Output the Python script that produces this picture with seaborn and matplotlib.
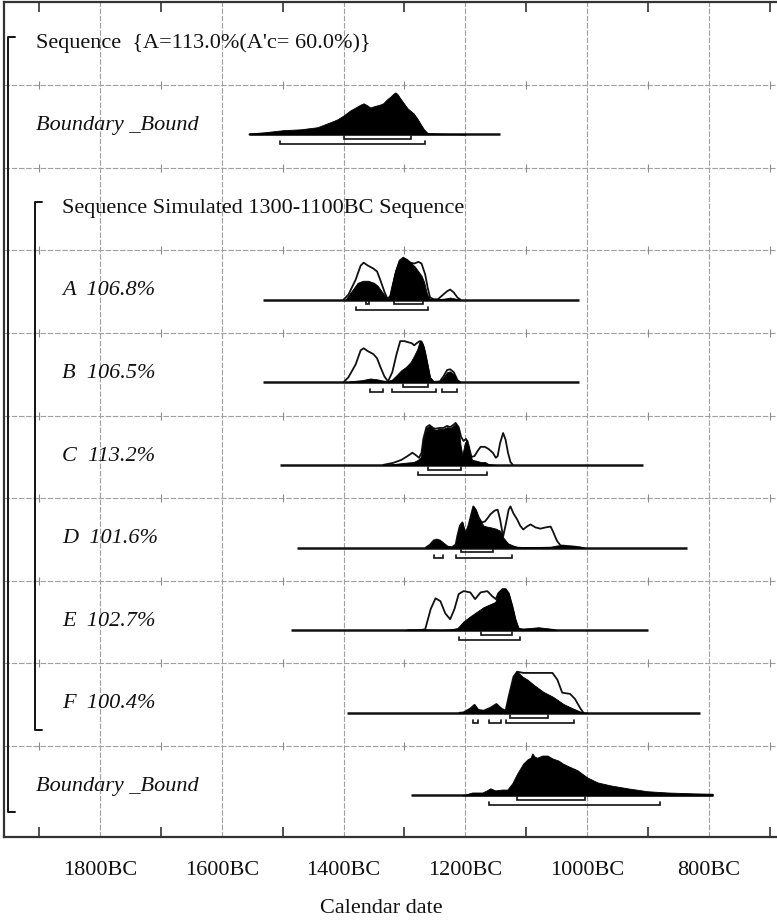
import matplotlib
matplotlib.use("Agg")
import matplotlib.pyplot as plt
import matplotlib.transforms as mtransforms
import pandas as pd
import seaborn as sns

# ---- rows, top to bottom -------------------------------------------------
ROW_LABELS = [
    "Sequence  {A=113.0%(A'c= 60.0%)}",
    "Boundary _Bound",
    "Sequence Simulated 1300-1100BC Sequence",
    "A  106.8%",
    "B  106.5%",
    "C  113.2%",
    "D  101.6%",
    "E  102.7%",
    "F  100.4%",
    "Boundary _Bound",
]
ROW_ITALIC = [False, True, False, True, True, True, True, True, True, True]
ROW_INDENT = [0, 0, 1, 1, 1, 1, 1, 1, 1, 0]

# ---- calendar axis (years BC) --------------------------------------------
GRID_YEARS = [1800, 1600, 1400, 1200, 1000, 800]
TICK_LABELS = ["1800BC", "1600BC", "1400BC", "1200BC", "1000BC", "800BC"]
MINOR_YEARS = [1900, 1700, 1500, 1300, 1100, 900, 700]
X_LABEL = "Calendar date"

# ---- start boundary (posterior only) ------------------------------------
START_POST_YEARS = [1556, 1530, 1499, 1471, 1443, 1427, 1418, 1410, 1400, 1389,
                    1378, 1372, 1367, 1361, 1356, 1350, 1345, 1340, 1335, 1329,
                    1323, 1318, 1315, 1311, 1307, 1301, 1295, 1285, 1279, 1274,
                    1268, 1262, 1245, 1225, 1200]
START_POST = [0.02, 0.05, 0.10, 0.12, 0.17, 0.26, 0.31, 0.36, 0.45, 0.57,
              0.66, 0.71, 0.74, 0.69, 0.64, 0.67, 0.69, 0.71, 0.74, 0.83,
              0.90, 0.97, 1.00, 0.95, 0.86, 0.74, 0.62, 0.50, 0.38, 0.26,
              0.12, 0.03, 0.02, 0.01, 0.00]

# ---- A ----------------------------------------------------------------------
A_PRIOR_YEARS = [1400, 1392, 1380, 1372, 1367, 1360, 1351, 1345, 1340, 1333,
                 1328, 1322, 1315, 1308, 1302, 1296, 1290, 1284, 1277, 1272,
                 1266, 1262, 1258, 1252, 1245, 1238, 1230, 1225, 1219, 1213, 1208]
A_PRIOR = [0, 0.12, 0.48, 0.81, 0.88, 0.81, 0.74, 0.67, 0.48, 0.19,
           0.02, 0.10, 0.60, 0.93, 1.00, 0.95, 0.88, 0.86, 0.90, 0.86,
           0.60, 0.29, 0.05, 0.01, 0.01, 0.10, 0.20, 0.24, 0.17, 0.05, 0]
A_POST_YEARS = [1396, 1385, 1377, 1368, 1360, 1350, 1344, 1337, 1330, 1326,
                1322, 1315, 1310, 1302, 1296, 1290, 1283, 1279, 1272, 1268,
                1263, 1259, 1245, 1232, 1225, 1218, 1210]
A_POST = [0.02, 0.24, 0.40, 0.45, 0.45, 0.40, 0.33, 0.19, 0.05, 0.02,
          0.29, 0.71, 0.90, 1.00, 0.95, 0.88, 0.79, 0.71, 0.57, 0.43,
          0.14, 0.02, 0.01, 0.03, 0.05, 0.03, 0]

# ---- B ----------------------------------------------------------------------
B_PRIOR_YEARS = [1400, 1392, 1380, 1372, 1367, 1360, 1351, 1345, 1340, 1333,
                 1327, 1320, 1313, 1307, 1300, 1293, 1288, 1284, 1280, 1275,
                 1272, 1268, 1263, 1258, 1252, 1242, 1236, 1230, 1225, 1219,
                 1213, 1208]
B_PRIOR = [0, 0.12, 0.43, 0.76, 0.81, 0.74, 0.67, 0.57, 0.38, 0.14,
           0.02, 0.24, 0.67, 0.98, 0.98, 0.95, 0.93, 0.88, 0.93, 0.98,
           0.97, 0.83, 0.43, 0.10, 0.01, 0.02, 0.14, 0.29, 0.31, 0.24,
           0.05, 0]
B_POST_YEARS = [1398, 1385, 1370, 1356, 1345, 1335, 1327, 1320, 1313, 1305,
                1298, 1290, 1284, 1279, 1275, 1271, 1266, 1262, 1258, 1252,
                1242, 1236, 1230, 1225, 1219, 1213, 1208]
B_POST = [0, 0.03, 0.05, 0.09, 0.07, 0.04, 0.03, 0.07, 0.17, 0.29,
          0.36, 0.48, 0.64, 0.79, 0.98, 0.95, 0.71, 0.43, 0.12, 0.01,
          0.02, 0.12, 0.24, 0.26, 0.19, 0.05, 0]

# ---- C ----------------------------------------------------------------------
C_PRIOR_YEARS = [1335, 1318, 1305, 1295, 1287, 1282, 1276, 1272, 1269, 1264,
                 1259, 1253, 1249, 1243, 1236, 1230, 1225, 1220, 1216, 1211,
                 1207, 1203, 1199, 1195, 1190, 1185, 1180, 1175, 1168, 1162,
                 1155, 1150, 1147, 1143, 1138, 1134, 1130, 1126, 1122]
C_PRIOR = [0, 0.05, 0.12, 0.21, 0.29, 0.24, 0.17, 0.29, 0.62, 0.90,
           0.95, 0.88, 0.86, 0.88, 0.88, 0.93, 0.90, 0.95, 1.00, 0.90,
           0.67, 0.57, 0.62, 0.48, 0.19, 0.21, 0.33, 0.43, 0.43, 0.38,
           0.29, 0.17, 0.21, 0.52, 0.76, 0.60, 0.29, 0.07, 0]
C_POST_YEARS = [1335, 1318, 1300, 1285, 1278, 1273, 1269, 1264, 1259, 1253,
                1249, 1243, 1236, 1230, 1225, 1220, 1216, 1211, 1208, 1205,
                1201, 1197, 1193, 1189, 1182, 1175, 1168, 1162, 1150]
C_POST = [0, 0.02, 0.05, 0.07, 0.12, 0.19, 0.60, 0.88, 0.93, 0.86,
          0.83, 0.86, 0.86, 0.90, 0.88, 0.93, 0.98, 0.86, 0.48, 0.24,
          0.52, 0.60, 0.29, 0.12, 0.10, 0.07, 0.07, 0.02, 0]

# ---- D ----------------------------------------------------------------------
D_PRIOR_YEARS = [1265, 1258, 1252, 1247, 1242, 1236, 1229, 1222, 1216, 1213,
                 1209, 1205, 1200, 1195, 1190, 1187, 1183, 1178, 1173, 1168,
                 1164, 1159, 1152, 1147, 1143, 1138, 1133, 1129, 1126, 1121,
                 1115, 1110, 1105, 1099, 1093, 1085, 1077, 1068, 1060, 1056,
                 1050, 1044, 1035, 1020, 1010]
D_PRIOR = [0, 0.07, 0.17, 0.19, 0.17, 0.10, 0.02, 0.01, 0.07, 0.29,
           0.52, 0.60, 0.33, 0.52, 0.81, 0.98, 0.90, 0.71, 0.60, 0.62,
           0.69, 0.79, 0.88, 0.90, 0.67, 0.26, 0.60, 0.90, 0.98, 0.81,
           0.67, 0.52, 0.43, 0.50, 0.55, 0.48, 0.45, 0.48, 0.50, 0.38,
           0.17, 0.05, 0.04, 0.02, 0]
D_POST_YEARS = [1265, 1258, 1252, 1247, 1242, 1236, 1229, 1222, 1216, 1213,
                1209, 1205, 1200, 1195, 1190, 1187, 1183, 1178, 1175, 1170,
                1165, 1158, 1150, 1143, 1139, 1134, 1130, 1122, 1115, 1100,
                1060, 1050, 1040, 1025, 1012, 1005]
D_POST = [0, 0.07, 0.17, 0.19, 0.17, 0.10, 0.02, 0.01, 0.07, 0.29,
          0.52, 0.60, 0.33, 0.52, 0.81, 0.98, 0.90, 0.71, 0.62, 0.52,
          0.50, 0.48, 0.45, 0.40, 0.26, 0.17, 0.10, 0.05, 0.02, 0.01,
          0.02, 0.05, 0.05, 0.04, 0.02, 0]

# ---- E ----------------------------------------------------------------------
E_PRIOR_YEARS = [1275, 1266, 1257, 1249, 1241, 1233, 1225, 1218, 1211, 1203,
                 1192, 1184, 1175, 1164, 1156, 1150, 1146, 1139, 1134, 1129,
                 1123, 1118, 1113, 1108]
E_PRIOR = [0, 0.02, 0.50, 0.76, 0.69, 0.40, 0.26, 0.50, 0.86, 0.93,
           0.90, 0.74, 0.90, 0.93, 0.81, 0.74, 0.88, 0.98, 0.98, 0.88,
           0.57, 0.26, 0.05, 0]
E_POST_YEARS = [1300, 1295, 1269, 1240, 1225, 1213, 1203, 1192, 1180, 1170,
                1159, 1151, 1146, 1139, 1134, 1129, 1123, 1118, 1113, 1105,
                1095, 1080, 1068, 1056, 1050]
E_POST = [0, 0.02, 0.02, 0.01, 0.02, 0.05, 0.21, 0.33, 0.45, 0.55,
          0.62, 0.67, 0.88, 0.98, 0.98, 0.88, 0.57, 0.26, 0.05, 0.04,
          0.05, 0.07, 0.05, 0.03, 0]

# ---- F ----------------------------------------------------------------------
F_PRIOR_YEARS = [1210, 1203, 1192, 1185, 1179, 1170, 1159, 1149, 1141, 1134,
                 1129, 1121, 1115, 1105, 1082, 1057, 1049, 1041, 1028, 1020,
                 1011, 1006]
F_PRIOR = [0, 0.01, 0.10, 0.19, 0.07, 0.05, 0.12, 0.21, 0.10, 0.05,
           0.38, 0.86, 0.98, 0.95, 0.95, 0.95, 0.79, 0.48, 0.45, 0.33,
           0.10, 0]
F_POST_YEARS = [1210, 1203, 1192, 1185, 1179, 1170, 1159, 1149, 1141, 1134,
                1129, 1121, 1115, 1106, 1098, 1088, 1072, 1056, 1039, 1023,
                1008, 1000]
F_POST = [0, 0.01, 0.10, 0.19, 0.07, 0.05, 0.12, 0.21, 0.10, 0.05,
          0.38, 0.86, 0.98, 0.86, 0.79, 0.67, 0.50, 0.38, 0.21, 0.10,
          0.01, 0]

# ---- end boundary (posterior only) ----------------------------------------
END_POST_YEARS = [1205, 1189, 1180, 1172, 1165, 1159, 1151, 1140, 1131, 1123,
                  1115, 1105, 1098, 1093, 1090, 1086, 1082, 1074, 1065, 1057,
                  1047, 1040, 1033, 1016, 1000, 983, 962, 934, 901, 868,
                  826, 794]
END_POST = [0.0, 0.07, 0.07, 0.07, 0.12, 0.17, 0.12, 0.14, 0.14, 0.29,
            0.52, 0.76, 0.86, 0.90, 1.00, 0.92, 0.90, 0.95, 0.95, 0.88,
            0.83, 0.76, 0.71, 0.60, 0.43, 0.31, 0.24, 0.17, 0.10, 0.07,
            0.05, 0.04]

# ---- plotted range of each distribution (years BC) ------------------------
RANGE_START = (1556, 1143)
RANGE_A = (1532, 1014)
RANGE_B = (1532, 1014)
RANGE_C = (1505, 909)
RANGE_D = (1476, 836)
RANGE_E = (1486, 900)
RANGE_F = (1394, 814)
RANGE_END = (1290, 794)

# ---- highest posterior density ranges (68.2% and 95.4%) -------------------
HPD68_START = [(1400, 1290)]
HPD95_START = [(1504, 1266)]
HPD68_A = [(1363, 1359), (1318, 1269)]
HPD95_A = [(1379, 1261)]
HPD68_B = [(1302, 1261)]
HPD95_B = [(1356, 1336), (1320, 1249), (1238, 1213)]
HPD68_C = [(1261, 1208)]
HPD95_C = [(1277, 1164)]
HPD68_D = [(1207, 1154)]
HPD95_D = [(1251, 1236), (1215, 1124)]
HPD68_E = [(1174, 1124)]
HPD95_E = [(1210, 1110)]
HPD68_F = [(1126, 1065)]
HPD95_F = [(1187, 1179), (1161, 1141), (1133, 1021)]
HPD68_END = [(1116, 1003)]
HPD95_END = [(1162, 880)]

ITEMS = [
    dict(row=1, rng=RANGE_START, prior=None, post=(START_POST_YEARS, START_POST),
         h68=HPD68_START, h95=HPD95_START),
    dict(row=3, rng=RANGE_A, prior=(A_PRIOR_YEARS, A_PRIOR), post=(A_POST_YEARS, A_POST),
         h68=HPD68_A, h95=HPD95_A),
    dict(row=4, rng=RANGE_B, prior=(B_PRIOR_YEARS, B_PRIOR), post=(B_POST_YEARS, B_POST),
         h68=HPD68_B, h95=HPD95_B),
    dict(row=5, rng=RANGE_C, prior=(C_PRIOR_YEARS, C_PRIOR), post=(C_POST_YEARS, C_POST),
         h68=HPD68_C, h95=HPD95_C),
    dict(row=6, rng=RANGE_D, prior=(D_PRIOR_YEARS, D_PRIOR), post=(D_POST_YEARS, D_POST),
         h68=HPD68_D, h95=HPD95_D),
    dict(row=7, rng=RANGE_E, prior=(E_PRIOR_YEARS, E_PRIOR), post=(E_POST_YEARS, E_POST),
         h68=HPD68_E, h95=HPD95_E),
    dict(row=8, rng=RANGE_F, prior=(F_PRIOR_YEARS, F_PRIOR), post=(F_POST_YEARS, F_POST),
         h68=HPD68_F, h95=HPD95_F),
    dict(row=9, rng=RANGE_END, prior=None, post=(END_POST_YEARS, END_POST),
         h68=HPD68_END, h95=HPD95_END),
]

# ---- styling ----------------------------------------------------------------
sns.set_theme(style="white")
plt.rcParams["font.family"] = ["Liberation Serif", "DejaVu Serif"]

INK = "#111111"
FRAME = "#333333"
GRID = "#a0a0a0"
N_ROWS = len(ROW_LABELS)
BASE_OFF = 0.597      # baseline position inside a row
H68_OFF = 0.655       # 68.2% range bar
H95_OFF = 0.718       # 95.4% range bar
PEAK = 0.508          # height of a unit-probability peak, in rows
CAP = 0.036           # bracket end caps

fig = plt.figure(figsize=(7.77, 9.22), dpi=100)
ax = fig.add_axes([4 / 777, 85 / 922, 773 / 777, 834.6 / 922])
ax.set_xlim(1957.6, 688.3)
ax.set_ylim(10.1, 0)

# grid: vertical lines every 200 years, horizontal lines between rows
ax.set_xticks(GRID_YEARS)
ax.set_xticklabels(TICK_LABELS)
ax.set_xticks(MINOR_YEARS, minor=True)
ax.set_yticks(range(1, N_ROWS))
ax.set_yticklabels([])
ax.grid(True, which="major", color=GRID, linestyle=(0, (5, 1.5)), linewidth=0.8, zorder=0)
ax.tick_params(axis="x", which="major", length=0, pad=17, labelsize=16,
               labelcolor=INK, bottom=True, top=False)
ax.tick_params(axis="x", which="minor", direction="in", length=7, width=1.2,
               color=FRAME, bottom=True, top=True)
ax.tick_params(axis="y", which="both", length=0, left=False)

# small cross marks on the row separators
cross = pd.DataFrame([(yr, r) for r in range(1, N_ROWS) for yr in MINOR_YEARS],
                     columns=["year", "row"])
ax.plot(cross["year"], cross["row"], ls="none", marker="|", ms=6, mew=0.8,
        color="#8c8c8c", zorder=1)

for side in ("top", "bottom", "left"):
    ax.spines[side].set_color(FRAME)
    ax.spines[side].set_linewidth(1.6)
ax.spines["right"].set_visible(False)

# ---- distributions -------------------------------------------------------
prior_rows = []
for k, it in enumerate(ITEMS):
    base = it["row"] + BASE_OFF
    if it["prior"] is not None:
        yrs, vals = it["prior"]
        for yr, v in zip(yrs, vals):
            prior_rows.append((k, yr, base - v * PEAK))
prior_df = pd.DataFrame(prior_rows, columns=["item", "year", "level"])

# prior likelihoods as open outlines
sns.lineplot(data=prior_df, x="year", y="level", units="item", estimator=None,
             sort=False, color=INK, linewidth=1.3, ax=ax, legend=False, zorder=3)

for it in ITEMS:
    base = it["row"] + BASE_OFF
    # baseline across the plotted range
    ax.plot(list(it["rng"]), [base, base], color=INK, lw=1.8, zorder=4,
            solid_capstyle="butt")
    # posterior as filled silhouette
    yrs, vals = it["post"]
    tops = [base - v * PEAK for v in vals]
    ax.fill_between(yrs, [base] * len(yrs), tops, color="black", lw=0.6,
                    edgecolor="black", zorder=5)
    # HPD range brackets
    for ranges, off in ((it["h68"], H68_OFF), (it["h95"], H95_OFF)):
        yb = it["row"] + off
        for a, b in ranges:
            ax.plot([a, a, b, b], [yb - CAP, yb, yb, yb - CAP], color=INK,
                    lw=1.2, zorder=5, solid_joinstyle="miter")

# ---- row labels and structure brackets ----------------------------------
blend = mtransforms.blended_transform_factory(ax.transAxes, ax.transData)
INDENT_X = [0.0414, 0.075]
for r, (lab, ital, ind) in enumerate(zip(ROW_LABELS, ROW_ITALIC, ROW_INDENT)):
    ax.text(INDENT_X[ind], r + 0.49, lab, transform=blend, ha="left", va="center",
            fontsize=16, style="italic" if ital else "normal", color=INK, zorder=6)

# outer sequence bracket (rows 0-9) and inner sequence bracket (rows 2-8)
ax.plot([0.0142, 0.0052, 0.0052, 0.0142], [0.42, 0.42, 9.80, 9.80],
        transform=blend, color=INK, lw=1.4, zorder=6, clip_on=False)
ax.plot([0.0495, 0.0400, 0.0400, 0.0495], [2.42, 2.42, 8.80, 8.80],
        transform=blend, color=INK, lw=1.4, zorder=6, clip_on=False)

ax.set_ylabel("")
ax.set_xlabel(X_LABEL, fontsize=16, color=INK, labelpad=14, x=0.488)

fig.savefig("out.png", dpi=100, facecolor="white")
